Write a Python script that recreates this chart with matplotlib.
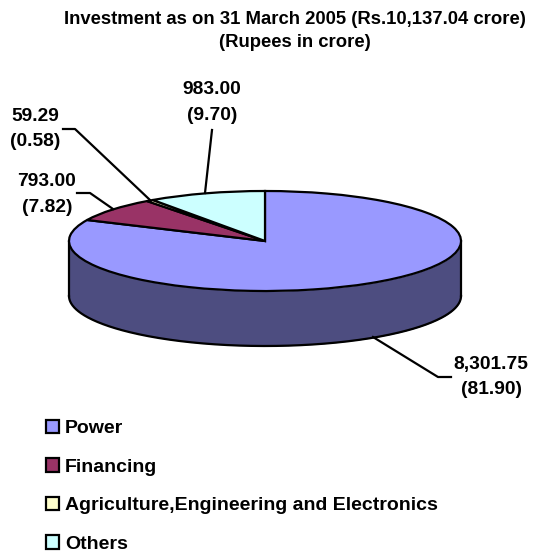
import numpy as np
import matplotlib
matplotlib.use("Agg")
import matplotlib.pyplot as plt

plt.rcParams['font.family'] = ['Liberation Sans', 'DejaVu Sans']
plt.rcParams['font.weight'] = 'bold'

W, H = 557, 553
categories = ["Power", "Financing", "Agriculture,Engineering and Electronics", "Others"]
values = [8301.75, 793.00, 59.29, 983.00]
percents = [81.90, 7.82, 0.58, 9.70]
value_labels = ["8,301.75", "793.00", "59.29", "983.00"]
colors = ["#9999FF", "#993366", "#FFFFCC", "#CCFFFF"]
side_color = "#4D4D80"
title = "Investment as on 31 March 2005 (Rs.10,137.04 crore)\n(Rupees in crore)"

CX, CY, RX, RY, DEPTH = 265.0, 241.0, 196.0, 50.0, 55.0

fig = plt.figure(figsize=(W / 100, H / 100), dpi=100, facecolor="white")
ax = fig.add_axes([0, 0, 1, 1])

# Side wall of the pie (y in units of the vertical radius)
d = DEPTH / RY
t = np.linspace(0, np.pi, 300)
xs = np.cos(t)
ax.fill_between(xs, -np.sin(t), -np.sin(t) - d, color=side_color, lw=0, zorder=1)
ax.plot(xs, -np.sin(t) - d, color="black", lw=1.6, zorder=2)
ax.plot([-1, -1], [0, -d], color="black", lw=1.6, zorder=2)
ax.plot([1, 1], [0, -d], color="black", lw=1.6, zorder=2)

wedges, _ = ax.pie(values, colors=colors, startangle=90, counterclock=False,
                   radius=1, center=(0, 0), frame=True,
                   wedgeprops=dict(edgecolor="black", linewidth=1.6, zorder=3))
ax.set_aspect("auto")
ax.set_xlim((0 - CX) / RX, (W - CX) / RX)
ax.set_ylim((CY - H) / RY, (CY - 0) / RY)
ax.axis("off")


def fx(px):
    return px / W


def fy(py):
    return 1 - py / H


def leader(pts):
    xs_, ys_ = zip(*pts)
    fig.add_artist(plt.Line2D([fx(p) for p in xs_], [fy(p) for p in ys_],
                              color="black", lw=1.6, zorder=5))


fig.text(fx(295), fy(31), title, ha="center", va="center", fontsize=13.3,
         fontweight="bold", linespacing=1.39, color="black")

label_pos = [(491, 377), (47, 194.5), (35, 129), (212, 102.5)]
leaders = [[(451, 377), (438, 377), (373, 337)],
           [(77, 193), (90, 193), (113, 209)],
           [(63, 129), (75, 129), (150, 200)],
           [(212, 130), (205, 193)]]
for vl, pc, (x, y), pts in zip(value_labels, percents, label_pos, leaders):
    fig.text(fx(x), fy(y), f"{vl}\n({pc:.2f})", ha="center", va="center",
             fontsize=13.8, fontweight="bold", linespacing=1.66, color="black")
    leader(pts)

fig.legend(wedges, categories, loc="upper left",
           bbox_to_anchor=(fx(46), fy(420)), frameon=False, borderpad=0,
           borderaxespad=0, handlelength=0.67, handleheight=0.67,
           handletextpad=0.31, labelspacing=1.08,
           prop=dict(family="Liberation Sans", weight="bold", size=14))

fig.savefig("out.png", dpi=100)
